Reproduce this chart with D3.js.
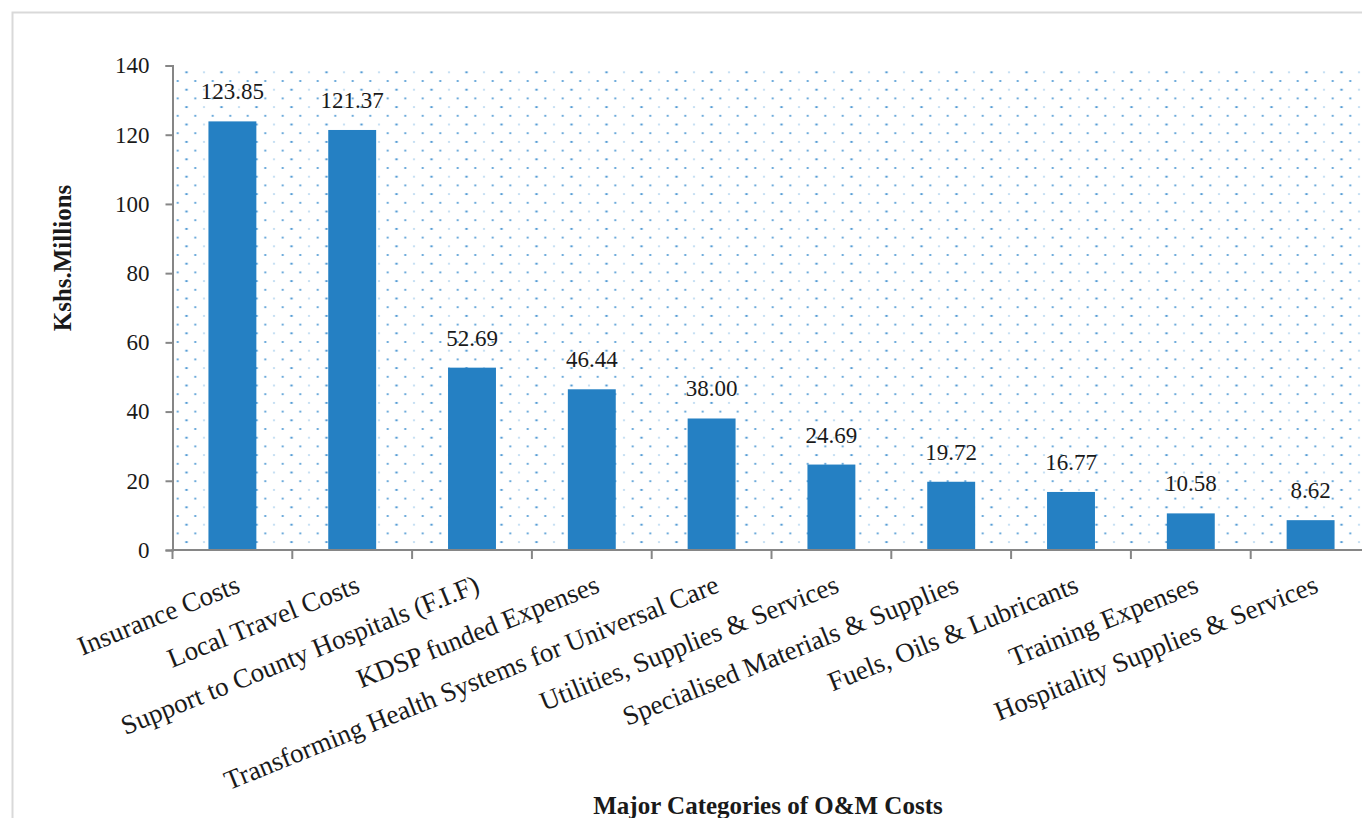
<!DOCTYPE html>
<html>
<head>
<meta charset="utf-8">
<script src="https://cdn.jsdelivr.net/npm/d3@7"></script>
<style>
  html, body { margin: 0; padding: 0; background: #fff; }
  svg { display: block; }
  text { font-family: "Liberation Serif", "Times New Roman", serif; fill: #1a1a1a; }
</style>
</head>
<body>
<svg id="chart" width="1362" height="818"></svg>
<script>
// O&M cost categories and amounts (Kshs. millions)
const categories = [
  "Insurance Costs",
  "Local Travel Costs",
  "Support to County Hospitals (F.I.F)",
  "KDSP funded Expenses",
  "Transforming Health Systems for Universal Care",
  "Utilities, Supplies & Services",
  "Specialised Materials & Supplies",
  "Fuels, Oils & Lubricants",
  "Training Expenses",
  "Hospitality Supplies & Services"
];
const values = [123.85, 121.37, 52.69, 46.44, 38.00, 24.69, 19.72, 16.77, 10.58, 8.62];
const yTicks = [0, 20, 40, 60, 80, 100, 120, 140];
const yTitle = "Kshs.Millions";
const xTitle = "Major Categories of O&M Costs";

const svg = d3.select("#chart");

const plot = { left: 172.5, right: 1370.5, top: 65.5, bottom: 550 };

// chart frame
svg.append("rect")
  .attr("x", 12.5).attr("y", 12.5)
  .attr("width", 1400).attr("height", 900)
  .attr("fill", "none").attr("stroke", "#d9d9d9").attr("stroke-width", 2);

// dotted plot-area fill
const defs = svg.append("defs");
const pat = defs.append("pattern")
  .attr("id", "dots")
  .attr("patternUnits", "userSpaceOnUse")
  .attr("x", plot.left + 14).attr("y", plot.top + 6.8)
  .attr("width", 35).attr("height", 17.4);
const dot = (px, py, w, h, c) => pat.append("rect")
  .attr("x", px - w / 2).attr("y", py - h / 2).attr("width", w).attr("height", h).attr("fill", c);
[[0, 0], [35, 0], [0, 17.4], [35, 17.4]].forEach(([px, py]) => dot(px, py, 2.4, 1.6, "#3389cc"));
[[17.5, 0], [17.5, 17.4]].forEach(([px, py]) => dot(px, py, 1.2, 1.2, "#5aa2dc"));
[[8.75, 8.7], [26.25, 8.7]].forEach(([px, py]) => dot(px, py, 1.7, 1.7, "#3389cc"));

svg.append("rect")
  .attr("x", plot.left).attr("y", plot.top)
  .attr("width", plot.right - plot.left).attr("height", plot.bottom - plot.top)
  .attr("fill", "url(#dots)");

// scales
const x = d3.scaleBand()
  .domain(categories)
  .range([plot.left, plot.right])
  .paddingInner(0.6)
  .paddingOuter(0.3);

const y = d3.scaleLinear()
  .domain([0, 140])
  .range([plot.bottom, plot.top]);

// bars
svg.append("g").selectAll("rect")
  .data(values)
  .join("rect")
  .attr("x", (d, i) => x(categories[i]))
  .attr("y", d => y(d))
  .attr("width", x.bandwidth())
  .attr("height", d => y(0) - y(d))
  .attr("fill", "#2580c3");

// value labels
svg.append("g").selectAll("text")
  .data(values)
  .join("text")
  .attr("x", (d, i) => x(categories[i]) + x.bandwidth() / 2)
  .attr("y", d => y(d) - 22)
  .attr("text-anchor", "middle")
  .attr("font-size", 23)
  .text(d => d.toFixed(2));

// y axis
const yAxis = svg.append("g")
  .attr("transform", `translate(${plot.left},0)`)
  .call(d3.axisLeft(y).tickValues(yTicks).tickSize(7).tickPadding(16).tickFormat(d3.format("d")));
yAxis.select(".domain").attr("stroke", "#868686").attr("stroke-width", 2);
yAxis.selectAll(".tick line").attr("stroke", "#868686").attr("stroke-width", 2);
yAxis.selectAll(".tick text")
  .attr("font-size", 23)
  .attr("font-family", "Liberation Serif, serif")
  .attr("fill", "#1a1a1a");

// x axis: line plus tick marks on category boundaries
const step = x.step();
const bounds = d3.range(categories.length + 1).map(i => plot.left + i * step);
svg.append("line")
  .attr("x1", plot.left - 1).attr("x2", plot.right + 10)
  .attr("y1", plot.bottom).attr("y2", plot.bottom)
  .attr("stroke", "#868686").attr("stroke-width", 2);
svg.append("g").selectAll("line")
  .data(bounds)
  .join("line")
  .attr("x1", d => d).attr("x2", d => d)
  .attr("y1", plot.bottom).attr("y2", plot.bottom + 9)
  .attr("stroke", "#868686").attr("stroke-width", 2);

// rotated category labels
svg.append("g").selectAll("text")
  .data(categories)
  .join("text")
  .attr("transform", d => `translate(${x(d) + x.bandwidth() / 2 + 2},${plot.bottom + 24}) rotate(-22)`)
  .attr("text-anchor", "end")
  .attr("dy", "0.7em")
  .attr("font-size", 27)
  .text(d => d);

// axis titles
svg.append("text")
  .attr("transform", `translate(71,258) rotate(-90)`)
  .attr("text-anchor", "middle")
  .attr("font-size", 25)
  .attr("font-weight", "bold")
  .text(yTitle);

svg.append("text")
  .attr("x", 768).attr("y", 814)
  .attr("text-anchor", "middle")
  .attr("font-size", 25)
  .attr("font-weight", "bold")
  .text(xTitle);
</script>
</body>
</html>
